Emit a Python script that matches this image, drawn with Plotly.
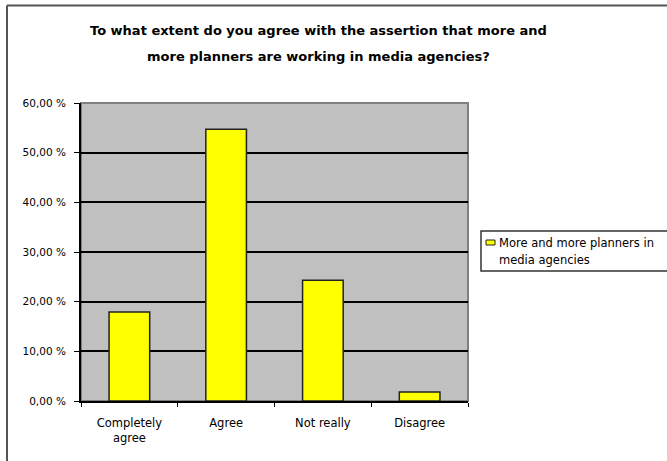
import plotly.graph_objects as go

# Survey answers and share of respondents (%)
categories = ["Completely<br>agree", "Agree", "Not really", "Disagree"]
shares = [17.9, 54.7, 24.3, 1.8]
legend_lines = ["More and more planners in", "media agencies"]
y_ticks = [0, 10, 20, 30, 40, 50, 60]
y_tick_labels = ["0,00 %", "10,00 %", "20,00 %", "30,00 %", "40,00 %", "50,00 %", "60,00 %"]
title_lines = [
    "To what extent do you agree with the assertion that more and",
    "more planners are working in media agencies?",
]

W, H = 667, 461
L, R, T, B = 81, 468, 103, 401  # plot area in pixels

font_family = "DejaVu Sans, Verdana, sans-serif"
bar_color = "#ffff00"
bar_edge = "#222222"

fig = go.Figure()
fig.add_trace(go.Bar(
    x=categories,
    y=shares,
    name=" ".join(legend_lines),
    marker=dict(color=bar_color, line=dict(color=bar_edge, width=1.5)),
    showlegend=False,
))

def px_x(p):
    return (p - L) / (R - L)

def px_y(p):
    return (B - p) / (B - T)

shapes = [
    # gray plot-area frame
    dict(type="rect", xref="paper", yref="paper", x0=0, x1=1, y0=0, y1=1,
         line=dict(color="#808080", width=2), layer="below"),
    # outer chart frame (top and left edges)
    dict(type="line", xref="paper", yref="paper",
         x0=px_x(7), x1=px_x(W + 5), y0=px_y(5.5), y1=px_y(5.5),
         line=dict(color="#555555", width=2)),
    dict(type="line", xref="paper", yref="paper",
         x0=px_x(7), x1=px_x(7), y0=px_y(5.5), y1=px_y(H + 5),
         line=dict(color="#555555", width=2)),
    # legend box and its swatch
    dict(type="rect", xref="paper", yref="paper",
         x0=px_x(481), x1=px_x(W + 10), y0=px_y(231), y1=px_y(271),
         line=dict(color="#333333", width=1.5), fillcolor="#ffffff"),
    dict(type="rect", xref="paper", yref="paper",
         x0=px_x(486), x1=px_x(495), y0=px_y(240), y1=px_y(245),
         line=dict(color=bar_edge, width=1), fillcolor=bar_color),
]

annotations = []
for i, line in enumerate(title_lines):
    annotations.append(dict(
        text="<b>%s</b>" % line, xref="paper", yref="paper",
        x=px_x(318), y=px_y(31 + 25 * i), xanchor="center", yanchor="middle",
        showarrow=False, font=dict(family=font_family, size=13, color="#000000"),
    ))
for i, line in enumerate(legend_lines):
    annotations.append(dict(
        text=line, xref="paper", yref="paper",
        x=px_x(497), y=px_y(243 + 17 * i), xanchor="left", yanchor="middle",
        showarrow=False, font=dict(family=font_family, size=11.5, color="#000000"),
    ))

fig.update_layout(
    width=W, height=H,
    margin=dict(l=L, r=W - R, t=T, b=H - B, pad=0),
    paper_bgcolor="#ffffff",
    plot_bgcolor="#c0c0c0",
    bargap=0.58,
    showlegend=False,
    font=dict(family=font_family, size=11, color="#000000"),
    shapes=shapes,
    annotations=annotations,
    xaxis=dict(
        type="category",
        tickson="boundaries",
        ticks="outside", ticklen=4, tickcolor="#000000", tickwidth=1,
        showgrid=False,
        showline=True, linecolor="#000000", linewidth=2,
        tickfont=dict(family=font_family, size=11.5),
        ticklabelstandoff=10,
        fixedrange=True,
    ),
    yaxis=dict(
        range=[0, 60],
        tickvals=y_ticks, ticktext=y_tick_labels,
        ticks="outside", ticklen=5, tickcolor="#000000", tickwidth=1,
        showgrid=True, gridcolor="#000000", gridwidth=2,
        showline=True, linecolor="#000000", linewidth=2,
        zeroline=False,
        tickfont=dict(family=font_family, size=10.5),
        ticklabelstandoff=6,
        fixedrange=True,
    ),
)

fig.write_html("out.html")
